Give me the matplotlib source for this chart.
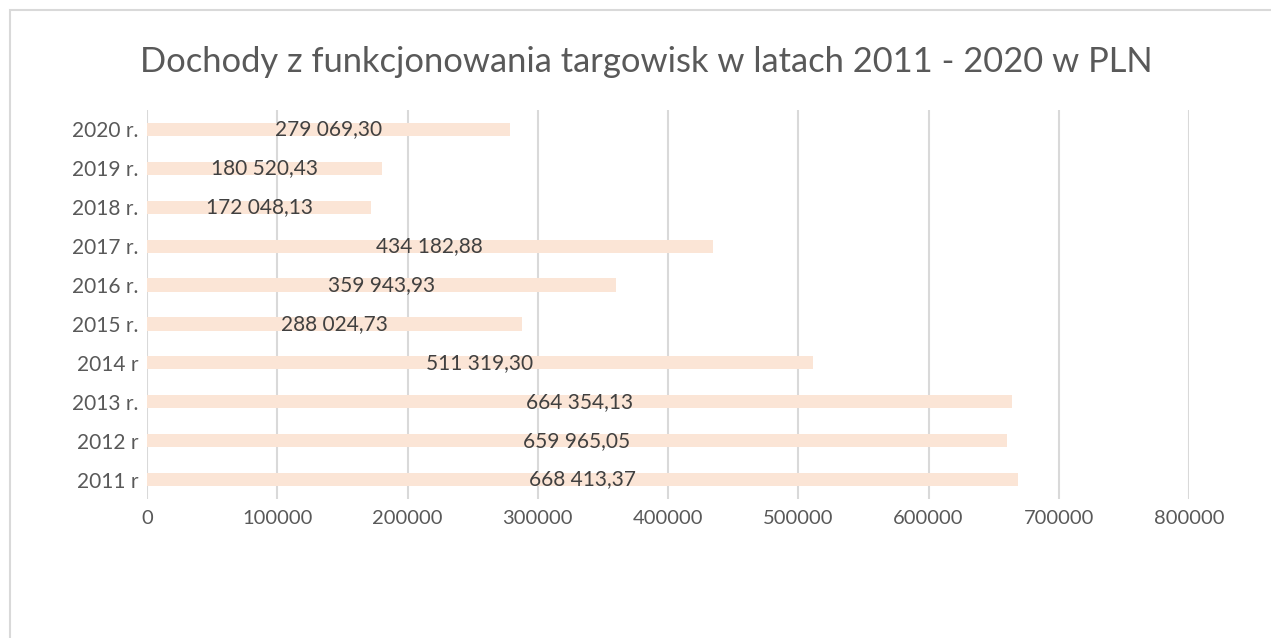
import matplotlib.pyplot as plt
from matplotlib.patches import Rectangle

years = ['2011 r', '2012 r', '2013 r.', '2014 r', '2015 r.', '2016 r.',
         '2017 r.', '2018 r.', '2019 r.', '2020 r.']
values = [668413.37, 659965.05, 664354.13, 511319.30, 288024.73, 359943.93,
          434182.88, 172048.13, 180520.43, 279069.30]
labels = ['668 413,37', '659 965,05', '664 354,13', '511 319,30', '288 024,73',
          '359 943,93', '434 182,88', '172 048,13', '180 520,43', '279 069,30']
xticks = [0, 100000, 200000, 300000, 400000, 500000, 600000, 700000, 800000]

plt.rcParams['font.family'] = ['Lato', 'DejaVu Sans']
text_col = '#595959'
grid_col = '#d9d9d9'

fig = plt.figure(figsize=(12.71, 6.38), dpi=100)
# outer chart frame (right and bottom edges fall outside the picture)
fig.patches.append(Rectangle((10 / 1271, -0.1), 1.2, 1 - 10 / 638 + 0.1,
                             transform=fig.transFigure, fill=False,
                             edgecolor=grid_col, linewidth=1.5))

ax = fig.add_axes([147 / 1271, 1 - 499 / 638, (1189 - 147) / 1271, (499 - 110) / 638])
pos = range(len(years))
ax.barh(pos, values, height=0.34, color='#fbe5d6', zorder=2)
for p, v, lab in zip(pos, values, labels):
    ax.text(v / 2, p, lab, ha='center', va='center', fontsize=15,
            color='#404040', zorder=3)

ax.set_xlim(0, 800000)
ax.set_ylim(-0.5, len(years) - 0.5)
ax.set_xticks(xticks)
ax.set_xticklabels([str(t) for t in xticks])
ax.set_yticks(list(pos))
ax.set_yticklabels(years)
ax.tick_params(length=0, labelsize=14.5, labelcolor=text_col, pad=8)
ax.tick_params(axis='y', labelsize=15, pad=6)
ax.grid(axis='x', color=grid_col, linewidth=1.5, zorder=0)
ax.set_axisbelow(True)
for s in ax.spines.values():
    s.set_visible(False)

fig.text(646 / 1271, 1 - 62 / 638, 'Dochody z funkcjonowania targowisk w latach 2011 - 2020 w PLN',
         ha='center', va='center', fontsize=24.8, color=text_col)

fig.savefig('out.png', dpi=100)
